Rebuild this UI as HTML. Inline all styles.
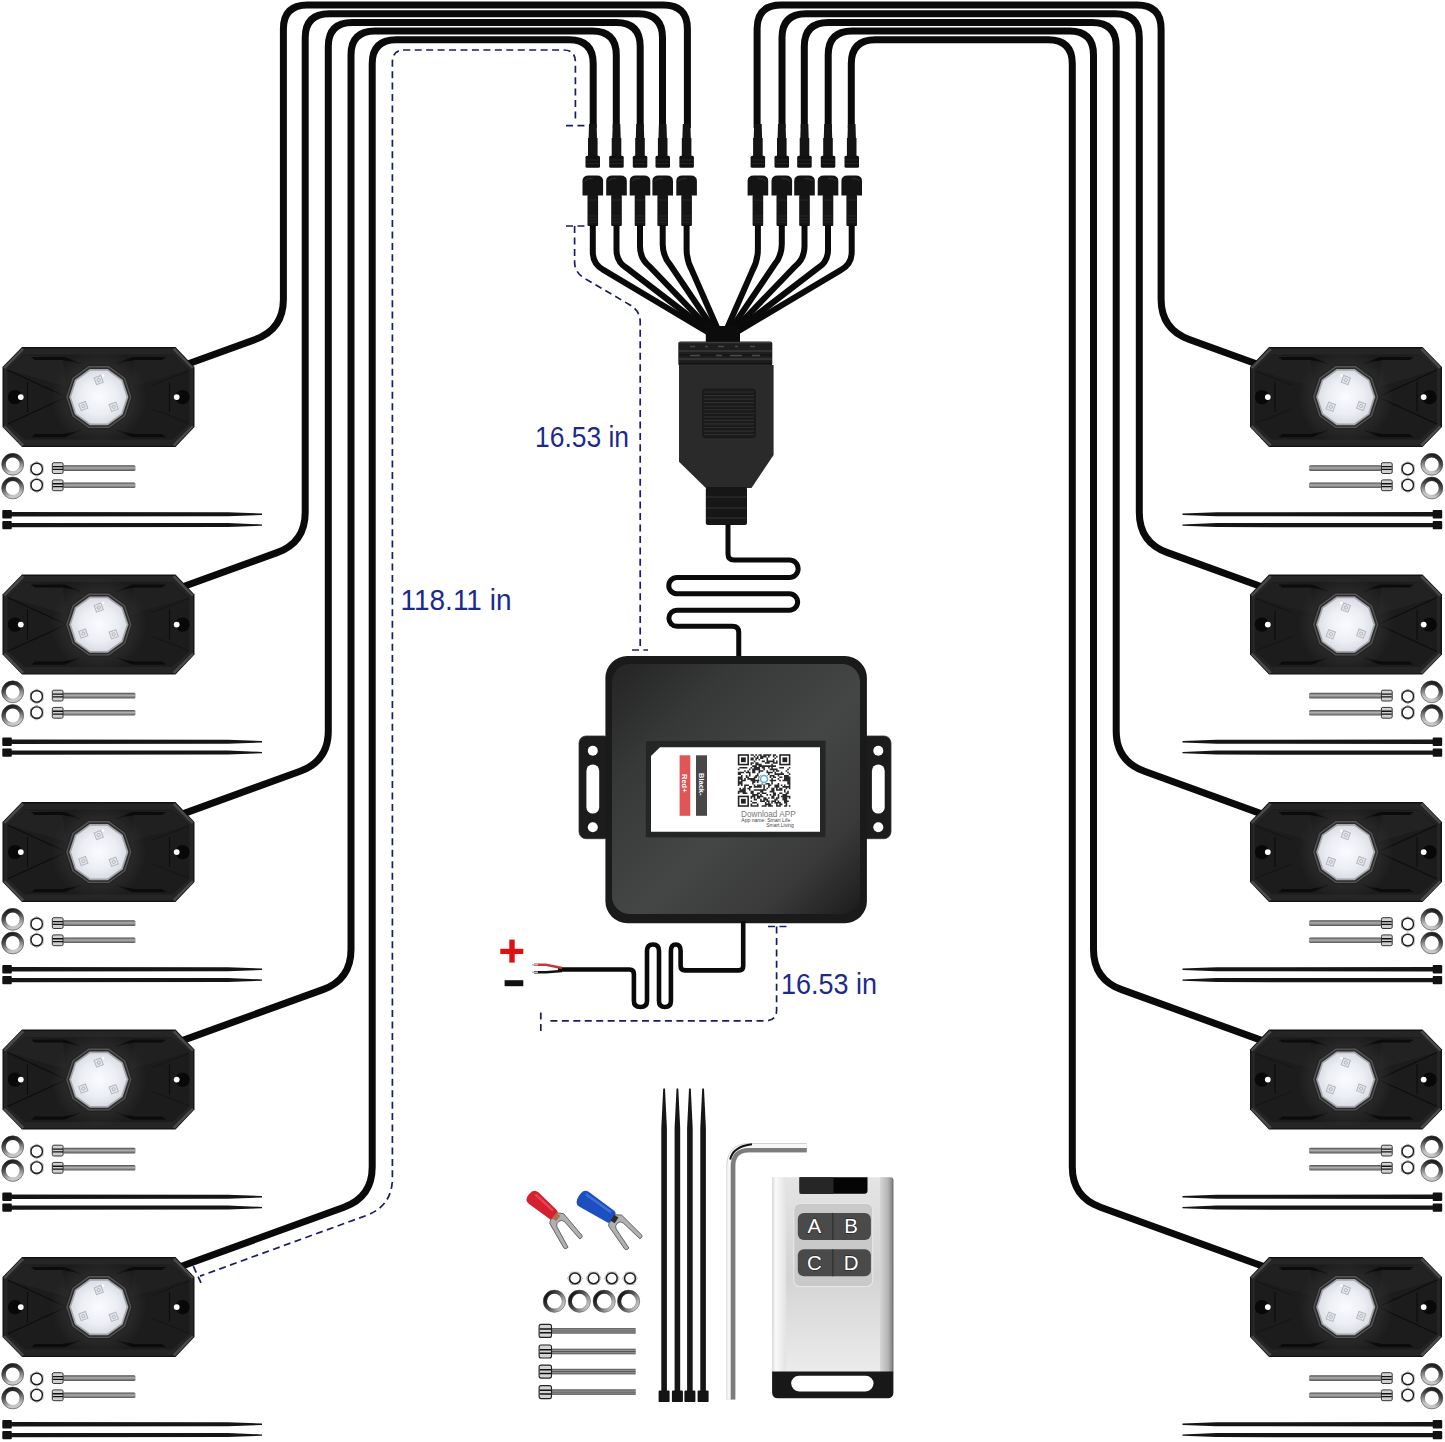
<!DOCTYPE html>
<html><head><meta charset="utf-8"><style>
html,body{margin:0;padding:0;background:#fff;}
body{width:1445px;height:1442px;overflow:hidden;font-family:"Liberation Sans",sans-serif;}
svg{display:block;}
</style></head><body>
<svg width="1445" height="1442" viewBox="0 0 1445 1442">
<defs><radialGradient id="lensG" cx="50%" cy="50%" r="55%">
<stop offset="0" stop-color="#fbfbff"/><stop offset="0.6" stop-color="#eceef4"/><stop offset="0.9" stop-color="#dcdee6"/><stop offset="1" stop-color="#cfd1d8"/></radialGradient><radialGradient id="podGlow" cx="50%" cy="50%" r="50%"><stop offset="0.6" stop-color="#2e2e2e" stop-opacity="0.9"/><stop offset="1" stop-color="#2e2e2e" stop-opacity="0"/></radialGradient>
<linearGradient id="washG" x1="0" y1="0" x2="0.3" y2="1">
<stop offset="0" stop-color="#111"/><stop offset="0.45" stop-color="#4a4a4a"/><stop offset="1" stop-color="#c8c8c8"/></linearGradient><linearGradient id="washH" x1="0" y1="0.2" x2="1" y2="0.8"><stop offset="0" stop-color="#0e0e0e"/><stop offset="0.5" stop-color="#555"/><stop offset="1" stop-color="#d0d0d0"/></linearGradient>
<linearGradient id="shaftG" x1="0" y1="0" x2="0" y2="1">
<stop offset="0" stop-color="#4a4a4a"/><stop offset="0.45" stop-color="#b0b0b0"/><stop offset="1" stop-color="#555"/></linearGradient><linearGradient id="shaftV" x1="0" y1="0" x2="1" y2="0">
<stop offset="0" stop-color="#6a6a6a"/><stop offset="0.45" stop-color="#d8d8d8"/><stop offset="1" stop-color="#6a6a6a"/></linearGradient><linearGradient id="boxG" x1="0" y1="0" x2="1" y2="1">
<stop offset="0" stop-color="#242424"/><stop offset="0.25" stop-color="#373838"/><stop offset="0.55" stop-color="#444545"/><stop offset="0.8" stop-color="#3a3a3a"/><stop offset="1" stop-color="#1c1c1c"/></linearGradient><linearGradient id="remG" x1="0" y1="0" x2="0" y2="1">
<stop offset="0" stop-color="#e4e4e4"/><stop offset="0.5" stop-color="#d4d4d4"/><stop offset="1" stop-color="#ececec"/></linearGradient>
<linearGradient id="remL" x1="0" y1="0" x2="1" y2="0"><stop offset="0" stop-color="#d8d8d8"/><stop offset="0.25" stop-color="#fafafa"/><stop offset="1" stop-color="#e2e2e2"/></linearGradient>
<linearGradient id="remR" x1="0" y1="0" x2="1" y2="0">
<stop offset="0" stop-color="#d6d6d6"/><stop offset="0.6" stop-color="#b4b4b4"/><stop offset="0.88" stop-color="#8a8a8a"/><stop offset="1" stop-color="#606060"/></linearGradient><g id="pod"><polygon points="19.5,0 173,0 192,20 192,80 173,100 19.5,100 0,80 0,20" fill="#121212"/><polygon points="20.5,1.3 172,1.3 190.7,20.6 190.7,79.4 172,98.7 20.5,98.7 1.3,79.4 1.3,20.6" fill="#252525"/><polygon points="22,7.5 170,7.5 187,23 187,77 170,92.5 22,92.5 5,77 5,23" fill="#1c1c1c"/><polygon points="6,23 22,8 60,11 64,40" fill="#222"/><polygon points="186,23 170,8 132,11 128,40" fill="#202020"/><polygon points="0.6,20.3 19.8,0.6 21.6,2.6 2.6,21.6" fill="#4a4a4a"/><polygon points="0.6,79.7 19.8,99.4 21.6,97.4 2.6,78.4" fill="#4a4a4a"/><polygon points="191.4,20.3 172.2,0.6 170.4,2.6 189.4,21.6" fill="#4a4a4a"/><polygon points="191.4,79.7 172.2,99.4 170.4,97.4 189.4,78.4" fill="#4a4a4a"/><g stroke="#0d0d0d" stroke-width="1.1" fill="none"><path d="M5,23 L64,50 L5,77"/><path d="M186,24 L150,38 M186,76 L150,62" stroke="#161616"/><path d="M25,35 V65"/><path d="M167,35 V65"/><path d="M29,10.5 H62 L78,17"/><path d="M29,89.5 H62 L78,83"/><path d="M163,10.5 H130 L114,17"/><path d="M163,89.5 H130 L114,83"/></g><path d="M30,10.6 H62 L74,15.5 L60,13 H32 Z" fill="#0b0b0b"/><path d="M30,89.4 H62 L74,84.5 L60,87 H32 Z" fill="#0b0b0b"/><path d="M162,10.6 H130 L118,15.5 L132,13 H160 Z" fill="#0b0b0b"/><path d="M162,89.4 H130 L118,84.5 L132,87 H160 Z" fill="#0b0b0b"/><circle cx="12.5" cy="50" r="7.2" fill="#080808"/><circle cx="18.3" cy="50" r="2.9" fill="#fff"/><circle cx="180" cy="50" r="7.2" fill="#080808"/><circle cx="174.2" cy="50" r="2.9" fill="#fff"/><circle cx="96.3" cy="50" r="48" fill="url(#podGlow)"/><polygon points="130.3,50.0 123.8,70.0 106.8,82.3 85.8,82.3 68.8,70.0 62.3,50.0 68.8,30.0 85.8,17.7 106.8,17.7 123.8,30.0" fill="#232323"/><polygon points="128.9,50.0 122.7,69.2 106.4,81.0 86.2,81.0 69.9,69.2 63.7,50.0 69.9,30.8 86.2,19.0 106.4,19.0 122.7,30.8" fill="#555"/><polygon points="127.5,50.0 121.5,68.3 105.9,79.7 86.7,79.7 71.1,68.3 65.1,50.0 71.1,31.7 86.7,20.3 105.9,20.3 121.5,31.7" fill="#2c2c2c"/><polygon points="125.9,50.0 120.2,67.4 105.4,78.2 87.2,78.2 72.4,67.4 66.7,50.0 72.4,32.6 87.2,21.8 105.4,21.8 120.2,32.6" fill="#a4a6aa"/><polygon points="124.1,50.0 118.8,66.3 104.9,76.4 87.7,76.4 73.8,66.3 68.5,50.0 73.8,33.7 87.7,23.6 104.9,23.6 118.8,33.7" fill="url(#lensG)"/><g transform="translate(96.2,33.0) rotate(-20)"><rect x="-3.6" y="-3.6" width="7.2" height="7.2" fill="#e4e6ea" stroke="#b4b8c0" stroke-width="1"/><circle cx="0" cy="0" r="1.6" fill="none" stroke="#a8acb4" stroke-width="0.8"/></g><g transform="translate(80.8,59.0) rotate(-20)"><rect x="-3.6" y="-3.6" width="7.2" height="7.2" fill="#e4e6ea" stroke="#b4b8c0" stroke-width="1"/><circle cx="0" cy="0" r="1.6" fill="none" stroke="#a8acb4" stroke-width="0.8"/></g><g transform="translate(111.2,59.7) rotate(-20)"><rect x="-3.6" y="-3.6" width="7.2" height="7.2" fill="#e4e6ea" stroke="#b4b8c0" stroke-width="1"/><circle cx="0" cy="0" r="1.6" fill="none" stroke="#a8acb4" stroke-width="0.8"/></g><circle cx="100.5" cy="28.5" r="1.3" fill="#fff"/></g><g id="hw"><circle cx="12.7" cy="117.2" r="9" fill="none" stroke="url(#washG)" stroke-width="4.2"/><circle cx="12.7" cy="117.2" r="10.9" fill="none" stroke="#444" stroke-width="0.6"/><circle cx="12.7" cy="140.9" r="9" fill="none" stroke="url(#washG)" stroke-width="4.2"/><circle cx="12.7" cy="140.9" r="10.9" fill="none" stroke="#444" stroke-width="0.6"/><polygon points="36.7,129.1 30.4,125.5 30.4,118.1 36.7,114.5 43.0,118.1 43.0,125.5" fill="#e4e4e4" stroke="#888" stroke-width="0.7"/><circle cx="36.7" cy="121.8" r="5.7" fill="#fff" stroke="#1c1c1c" stroke-width="1.4"/><polygon points="36.7,145.3 30.4,141.7 30.4,134.3 36.7,130.7 43.0,134.3 43.0,141.7" fill="#e4e4e4" stroke="#888" stroke-width="0.7"/><circle cx="36.7" cy="138.0" r="5.7" fill="#fff" stroke="#1c1c1c" stroke-width="1.4"/><rect x="63" y="118.2" width="72.5" height="5.6" rx="1.5" fill="url(#shaftG)"/><rect x="52.3" y="115.6" width="10.8" height="10.8" rx="1.5" fill="#d0d0d0" stroke="#333" stroke-width="1"/><path d="M52.8,119.5 H63 M52.8,122.3 H63" stroke="#111" stroke-width="1.4"/><rect x="63" y="135.4" width="72.5" height="5.6" rx="1.5" fill="url(#shaftG)"/><rect x="52.3" y="132.8" width="10.8" height="10.8" rx="1.5" fill="#d0d0d0" stroke="#333" stroke-width="1"/><path d="M52.8,136.7 H63 M52.8,139.5 H63" stroke="#111" stroke-width="1.4"/><rect x="2.3" y="163.0" width="9.5" height="8.4" rx="1" fill="#111"/><path d="M11,165.0 L228,165.2 L262,166.5 L262,167.9 L228,169.2 L11,169.4 Z" fill="#151515"/><rect x="2.3" y="173.8" width="9.5" height="8.4" rx="1" fill="#111"/><path d="M11,175.8 L228,176.0 L262,177.3 L262,178.7 L228,180.0 L11,180.2 Z" fill="#151515"/></g></defs>
<rect width="1445" height="1442" fill="#fff"/>
<g id="L"><path d="M687.4,128 V29.1 Q687.4,5.1 663.4,5.1 H307.4 Q283.4,5.1 283.4,29.1 V299.3 Q283.4,329.3 255.2,339.5 L176.0,368.3" stroke="#0a0a0a" stroke-width="7" fill="none"/><path d="M662.5,128 V37.8 Q662.5,13.8 638.5,13.8 H329.2 Q305.2,13.8 305.2,37.8 V512.4 Q305.2,542.4 277.0,552.6 L176.0,589.3" stroke="#0a0a0a" stroke-width="7" fill="none"/><path d="M640.2,128 V46.6 Q640.2,22.6 616.2,22.6 H352.3 Q328.3,22.6 328.3,46.6 V731.1 Q328.3,761.1 300.1,771.3 L176.0,816.4" stroke="#0a0a0a" stroke-width="7" fill="none"/><path d="M616.3,128 V55.0 Q616.3,31.0 592.3,31.0 H375.0 Q351.0,31.0 351.0,55.0 V949.4 Q351.0,979.4 322.8,989.6 L176.0,1042.9" stroke="#0a0a0a" stroke-width="7" fill="none"/><path d="M593.2,128 V63.8 Q593.2,39.8 569.2,39.8 H396.2 Q372.2,39.8 372.2,63.8 V1167.0 Q372.2,1197.0 344.0,1207.2 L176.0,1268.2" stroke="#0a0a0a" stroke-width="7" fill="none"/><use href="#pod" transform="translate(2.5,347.1)"/><use href="#hw" transform="translate(0,347.1)"/><use href="#pod" transform="translate(2.5,574.6)"/><use href="#hw" transform="translate(0,574.6)"/><use href="#pod" transform="translate(2.5,802.1)"/><use href="#hw" transform="translate(0,802.1)"/><use href="#pod" transform="translate(2.5,1029.6)"/><use href="#hw" transform="translate(0,1029.6)"/><use href="#pod" transform="translate(2.5,1257.1)"/><use href="#hw" transform="translate(0,1257.1)"/><path d="M589.0,124 L596.6,124 L597.0,138 L597.6,138 L597.6,156 L588.0,156 L588.0,138 L588.6,138 Z" fill="#141414"/><rect x="585.5" y="155.8" width="14.5" height="12" rx="1.5" fill="#111"/><path d="M586.3,160 H599.3 M586.3,163.5 H599.3" stroke="#2a2a2a" stroke-width="0.8"/><path d="M582.5,195.5 V181 Q582.5,175.5 588.8,175.5 H596.8 Q603.1,175.5 603.1,181 V195.5 Z" fill="#141414"/><path d="M584.8,181 Q586.8,178 592.8,178.5" stroke="#333" stroke-width="1" fill="none"/><rect x="587.5" y="195" width="10.6" height="31" rx="1" fill="#151515"/><path d="M587.8,200 H597.8 M587.8,216 H597.8 M587.8,219 H597.8 M587.8,222 H597.8" stroke="#2c2c2c" stroke-width="0.8"/><path d="M612.7,124 L620.3,124 L620.7,138 L621.3,138 L621.3,156 L611.7,156 L611.7,138 L612.3,138 Z" fill="#141414"/><rect x="609.2" y="155.8" width="14.5" height="12" rx="1.5" fill="#111"/><path d="M610.0,160 H623.0 M610.0,163.5 H623.0" stroke="#2a2a2a" stroke-width="0.8"/><path d="M606.2,195.5 V181 Q606.2,175.5 612.5,175.5 H620.5 Q626.8,175.5 626.8,181 V195.5 Z" fill="#141414"/><path d="M608.5,181 Q610.5,178 616.5,178.5" stroke="#333" stroke-width="1" fill="none"/><rect x="611.2" y="195" width="10.6" height="31" rx="1" fill="#151515"/><path d="M611.5,200 H621.5 M611.5,216 H621.5 M611.5,219 H621.5 M611.5,222 H621.5" stroke="#2c2c2c" stroke-width="0.8"/><path d="M636.2,124 L643.8,124 L644.2,138 L644.8,138 L644.8,156 L635.2,156 L635.2,138 L635.8,138 Z" fill="#141414"/><rect x="632.8" y="155.8" width="14.5" height="12" rx="1.5" fill="#111"/><path d="M633.5,160 H646.5 M633.5,163.5 H646.5" stroke="#2a2a2a" stroke-width="0.8"/><path d="M629.7,195.5 V181 Q629.7,175.5 636.0,175.5 H644.0 Q650.3,175.5 650.3,181 V195.5 Z" fill="#141414"/><path d="M632.0,181 Q634.0,178 640.0,178.5" stroke="#333" stroke-width="1" fill="none"/><rect x="634.7" y="195" width="10.6" height="31" rx="1" fill="#151515"/><path d="M635.0,200 H645.0 M635.0,216 H645.0 M635.0,219 H645.0 M635.0,222 H645.0" stroke="#2c2c2c" stroke-width="0.8"/><path d="M658.9,124 L666.5,124 L666.9,138 L667.5,138 L667.5,156 L657.9,156 L657.9,138 L658.5,138 Z" fill="#141414"/><rect x="655.5" y="155.8" width="14.5" height="12" rx="1.5" fill="#111"/><path d="M656.2,160 H669.2 M656.2,163.5 H669.2" stroke="#2a2a2a" stroke-width="0.8"/><path d="M652.4,195.5 V181 Q652.4,175.5 658.7,175.5 H666.7 Q673.0,175.5 673.0,181 V195.5 Z" fill="#141414"/><path d="M654.7,181 Q656.7,178 662.7,178.5" stroke="#333" stroke-width="1" fill="none"/><rect x="657.4" y="195" width="10.6" height="31" rx="1" fill="#151515"/><path d="M657.7,200 H667.7 M657.7,216 H667.7 M657.7,219 H667.7 M657.7,222 H667.7" stroke="#2c2c2c" stroke-width="0.8"/><path d="M682.8,124 L690.4,124 L690.8,138 L691.4,138 L691.4,156 L681.8,156 L681.8,138 L682.4,138 Z" fill="#141414"/><rect x="679.4" y="155.8" width="14.5" height="12" rx="1.5" fill="#111"/><path d="M680.1,160 H693.1 M680.1,163.5 H693.1" stroke="#2a2a2a" stroke-width="0.8"/><path d="M676.3,195.5 V181 Q676.3,175.5 682.6,175.5 H690.6 Q696.9,175.5 696.9,181 V195.5 Z" fill="#141414"/><path d="M678.6,181 Q680.6,178 686.6,178.5" stroke="#333" stroke-width="1" fill="none"/><rect x="681.3" y="195" width="10.6" height="31" rx="1" fill="#151515"/><path d="M681.6,200 H691.6 M681.6,216 H691.6 M681.6,219 H691.6 M681.6,222 H691.6" stroke="#2c2c2c" stroke-width="0.8"/><path d="M592.8,225 V252.1 Q592.8,264.1 603.4,269.8 L707.5,332.0" stroke="#0a0a0a" stroke-width="6" fill="none"/><path d="M616.5,225 V249.9 Q616.5,261.9 626.7,268.1 L710.0,332.0" stroke="#0a0a0a" stroke-width="6" fill="none"/><path d="M640.0,225 V246.6 Q640.0,258.6 649.3,266.2 L712.5,332.0" stroke="#0a0a0a" stroke-width="6" fill="none"/><path d="M662.7,225 V244.2 Q662.7,256.2 670.5,265.3 L715.5,332.0" stroke="#0a0a0a" stroke-width="6" fill="none"/><path d="M686.6,225 V249.0 Q686.6,261.0 692.5,271.5 L719.0,332.0" stroke="#0a0a0a" stroke-width="6" fill="none"/></g>
<g transform="translate(1444.5,0) scale(-1,1)"><path d="M687.4,128 V29.1 Q687.4,5.1 663.4,5.1 H307.4 Q283.4,5.1 283.4,29.1 V299.3 Q283.4,329.3 255.2,339.5 L176.0,368.3" stroke="#0a0a0a" stroke-width="7" fill="none"/><path d="M662.5,128 V37.8 Q662.5,13.8 638.5,13.8 H329.2 Q305.2,13.8 305.2,37.8 V512.4 Q305.2,542.4 277.0,552.6 L176.0,589.3" stroke="#0a0a0a" stroke-width="7" fill="none"/><path d="M640.2,128 V46.6 Q640.2,22.6 616.2,22.6 H352.3 Q328.3,22.6 328.3,46.6 V731.1 Q328.3,761.1 300.1,771.3 L176.0,816.4" stroke="#0a0a0a" stroke-width="7" fill="none"/><path d="M616.3,128 V55.0 Q616.3,31.0 592.3,31.0 H375.0 Q351.0,31.0 351.0,55.0 V949.4 Q351.0,979.4 322.8,989.6 L176.0,1042.9" stroke="#0a0a0a" stroke-width="7" fill="none"/><path d="M593.2,128 V63.8 Q593.2,39.8 569.2,39.8 H396.2 Q372.2,39.8 372.2,63.8 V1167.0 Q372.2,1197.0 344.0,1207.2 L176.0,1268.2" stroke="#0a0a0a" stroke-width="7" fill="none"/><use href="#pod" transform="translate(2.5,347.1)"/><use href="#hw" transform="translate(0,347.1)"/><use href="#pod" transform="translate(2.5,574.6)"/><use href="#hw" transform="translate(0,574.6)"/><use href="#pod" transform="translate(2.5,802.1)"/><use href="#hw" transform="translate(0,802.1)"/><use href="#pod" transform="translate(2.5,1029.6)"/><use href="#hw" transform="translate(0,1029.6)"/><use href="#pod" transform="translate(2.5,1257.1)"/><use href="#hw" transform="translate(0,1257.1)"/><path d="M589.0,124 L596.6,124 L597.0,138 L597.6,138 L597.6,156 L588.0,156 L588.0,138 L588.6,138 Z" fill="#141414"/><rect x="585.5" y="155.8" width="14.5" height="12" rx="1.5" fill="#111"/><path d="M586.3,160 H599.3 M586.3,163.5 H599.3" stroke="#2a2a2a" stroke-width="0.8"/><path d="M582.5,195.5 V181 Q582.5,175.5 588.8,175.5 H596.8 Q603.1,175.5 603.1,181 V195.5 Z" fill="#141414"/><path d="M584.8,181 Q586.8,178 592.8,178.5" stroke="#333" stroke-width="1" fill="none"/><rect x="587.5" y="195" width="10.6" height="31" rx="1" fill="#151515"/><path d="M587.8,200 H597.8 M587.8,216 H597.8 M587.8,219 H597.8 M587.8,222 H597.8" stroke="#2c2c2c" stroke-width="0.8"/><path d="M612.7,124 L620.3,124 L620.7,138 L621.3,138 L621.3,156 L611.7,156 L611.7,138 L612.3,138 Z" fill="#141414"/><rect x="609.2" y="155.8" width="14.5" height="12" rx="1.5" fill="#111"/><path d="M610.0,160 H623.0 M610.0,163.5 H623.0" stroke="#2a2a2a" stroke-width="0.8"/><path d="M606.2,195.5 V181 Q606.2,175.5 612.5,175.5 H620.5 Q626.8,175.5 626.8,181 V195.5 Z" fill="#141414"/><path d="M608.5,181 Q610.5,178 616.5,178.5" stroke="#333" stroke-width="1" fill="none"/><rect x="611.2" y="195" width="10.6" height="31" rx="1" fill="#151515"/><path d="M611.5,200 H621.5 M611.5,216 H621.5 M611.5,219 H621.5 M611.5,222 H621.5" stroke="#2c2c2c" stroke-width="0.8"/><path d="M636.2,124 L643.8,124 L644.2,138 L644.8,138 L644.8,156 L635.2,156 L635.2,138 L635.8,138 Z" fill="#141414"/><rect x="632.8" y="155.8" width="14.5" height="12" rx="1.5" fill="#111"/><path d="M633.5,160 H646.5 M633.5,163.5 H646.5" stroke="#2a2a2a" stroke-width="0.8"/><path d="M629.7,195.5 V181 Q629.7,175.5 636.0,175.5 H644.0 Q650.3,175.5 650.3,181 V195.5 Z" fill="#141414"/><path d="M632.0,181 Q634.0,178 640.0,178.5" stroke="#333" stroke-width="1" fill="none"/><rect x="634.7" y="195" width="10.6" height="31" rx="1" fill="#151515"/><path d="M635.0,200 H645.0 M635.0,216 H645.0 M635.0,219 H645.0 M635.0,222 H645.0" stroke="#2c2c2c" stroke-width="0.8"/><path d="M658.9,124 L666.5,124 L666.9,138 L667.5,138 L667.5,156 L657.9,156 L657.9,138 L658.5,138 Z" fill="#141414"/><rect x="655.5" y="155.8" width="14.5" height="12" rx="1.5" fill="#111"/><path d="M656.2,160 H669.2 M656.2,163.5 H669.2" stroke="#2a2a2a" stroke-width="0.8"/><path d="M652.4,195.5 V181 Q652.4,175.5 658.7,175.5 H666.7 Q673.0,175.5 673.0,181 V195.5 Z" fill="#141414"/><path d="M654.7,181 Q656.7,178 662.7,178.5" stroke="#333" stroke-width="1" fill="none"/><rect x="657.4" y="195" width="10.6" height="31" rx="1" fill="#151515"/><path d="M657.7,200 H667.7 M657.7,216 H667.7 M657.7,219 H667.7 M657.7,222 H667.7" stroke="#2c2c2c" stroke-width="0.8"/><path d="M682.8,124 L690.4,124 L690.8,138 L691.4,138 L691.4,156 L681.8,156 L681.8,138 L682.4,138 Z" fill="#141414"/><rect x="679.4" y="155.8" width="14.5" height="12" rx="1.5" fill="#111"/><path d="M680.1,160 H693.1 M680.1,163.5 H693.1" stroke="#2a2a2a" stroke-width="0.8"/><path d="M676.3,195.5 V181 Q676.3,175.5 682.6,175.5 H690.6 Q696.9,175.5 696.9,181 V195.5 Z" fill="#141414"/><path d="M678.6,181 Q680.6,178 686.6,178.5" stroke="#333" stroke-width="1" fill="none"/><rect x="681.3" y="195" width="10.6" height="31" rx="1" fill="#151515"/><path d="M681.6,200 H691.6 M681.6,216 H691.6 M681.6,219 H691.6 M681.6,222 H691.6" stroke="#2c2c2c" stroke-width="0.8"/><path d="M592.8,225 V252.1 Q592.8,264.1 603.4,269.8 L707.5,332.0" stroke="#0a0a0a" stroke-width="6" fill="none"/><path d="M616.5,225 V249.9 Q616.5,261.9 626.7,268.1 L710.0,332.0" stroke="#0a0a0a" stroke-width="6" fill="none"/><path d="M640.0,225 V246.6 Q640.0,258.6 649.3,266.2 L712.5,332.0" stroke="#0a0a0a" stroke-width="6" fill="none"/><path d="M662.7,225 V244.2 Q662.7,256.2 670.5,265.3 L715.5,332.0" stroke="#0a0a0a" stroke-width="6" fill="none"/><path d="M686.6,225 V249.0 Q686.6,261.0 692.5,271.5 L719.0,332.0" stroke="#0a0a0a" stroke-width="6" fill="none"/></g>
<path d="M575.4,118.5 V62 Q575.4,50 563.4,50 H404.4 Q392.4,50 392.4,62 V1178 Q392.4,1206 366,1215.6 L200,1276.1" stroke="#191d68" stroke-width="1.7" fill="none" stroke-dasharray="7 4.45"/><path d="M566,125.6 H585" stroke="#191d68" stroke-width="1.7" fill="none" stroke-dasharray="7 4.45"/><path d="M566,226 H585 M574.6,226 V262 Q574.6,272 584,278 L630,305 Q640.2,311 640.2,322 V650" stroke="#191d68" stroke-width="1.7" fill="none" stroke-dasharray="7 4.45"/><path d="M632,650 H648" stroke="#191d68" stroke-width="1.7" fill="none" stroke-dasharray="7 4.45"/><path d="M193.3,1266.2 L202.4,1286" stroke="#191d68" stroke-width="1.7" fill="none" stroke-dasharray="7 4.45"/><path d="M768,926.5 H786.5 M776.6,926.5 V1010 Q776.6,1020.8 765,1020.8 H546 M540.8,1012.5 V1031.2" stroke="#191d68" stroke-width="1.7" fill="none" stroke-dasharray="7 4.45"/><rect x="705.8" y="326" width="34.2" height="16" fill="#0c0c0c"/><rect x="678.3" y="341.4" width="94" height="24.4" rx="2" fill="#1e1e1e"/><path d="M679,342.6 H771.5" stroke="#3c3c3c" stroke-width="1.4"/><path d="M679,351 H772 M679,359 H772" stroke="#3a3a3a" stroke-width="1.6"/><path d="M679,355 H772 M679,363.5 H772" stroke="#111" stroke-width="1.2"/><path d="M690,346.5 h5 M705,346.5 h3 M718,346.5 h6 M735,346.5 h3 M750,346.5 h5 M690,355.5 h10 M716,355.5 h6 M730,355.5 h12 M752,355.5 h8" stroke="#4a4a4a" stroke-width="1.3"/><path d="M679,365 H773.6 V455 L751.5,488 H705.8 L679,461.8 Z" fill="#2a2a2a"/><rect x="702" y="388.6" width="54" height="49.6" rx="4" fill="#1a1a1a"/><path d="M704,392.0 H754 M704,395.6 H754 M704,399.1 H754 M704,402.6 H754 M704,406.2 H754 M704,409.8 H754 M704,413.3 H754 M704,416.9 H754 M704,420.4 H754 M704,423.9 H754 M704,427.5 H754 M704,431.1 H754 M704,434.6 H754 " stroke="#2e2e2e" stroke-width="1.1"/><rect x="705.8" y="487" width="41.2" height="38" rx="2" fill="#161616"/><path d="M706,497 H747 M706,508 H747 M706,518 H747" stroke="#2a2a2a" stroke-width="1.5"/><path d="M728,524 V554 Q728,560 734,560 H789.4 A8.125,8.125 0 0 1 789.4,577.5 H676.9 A8.125,8.125 0 0 0 676.9,593.75 H789.4 A8.25,8.25 0 0 1 789.4,610.25 H676.9 A8,8 0 0 0 676.9,626.25 H732.5 Q738.75,626.25 738.75,632.5 V660" stroke="#0a0a0a" stroke-width="5" fill="none"/><rect x="579" y="736" width="32" height="102.7" rx="7" fill="#1c1c1c" stroke="#333" stroke-width="0.8"/><rect x="860" y="736" width="31" height="102.7" rx="7" fill="#1c1c1c" stroke="#333" stroke-width="0.8"/><circle cx="592.8" cy="750.8" r="5" fill="#fff"/><circle cx="592.8" cy="827.3" r="5" fill="#fff"/><rect x="586.4" y="764.5" width="12.8" height="49.1" rx="6.4" fill="#fff"/><circle cx="878.3" cy="750.8" r="5" fill="#fff"/><circle cx="878.3" cy="827.3" r="5" fill="#fff"/><rect x="871.9" y="764.5" width="12.8" height="49.1" rx="6.4" fill="#fff"/><rect x="605.4" y="656" width="261.5" height="267.2" rx="22" fill="#1a1a1a"/><rect x="612" y="664" width="248" height="250" rx="18" fill="url(#boxG)"/><rect x="645.4" y="740.5" width="180.4" height="97" fill="#242525" stroke="#3a3b3b" stroke-width="0.8"/><path d="M660,747.3 H820 V831.8 H651 V756 Z" fill="#fff"/><rect x="679.6" y="755.3" width="10.7" height="60.5" fill="#e05555"/><rect x="696" y="755.3" width="11" height="60.5" fill="#4a4648"/><text x="0" y="0" transform="translate(682.3,774) rotate(90)" font-family="Liberation Sans" font-weight="bold" font-size="7.5" fill="#fff">Red+</text><text x="0" y="0" transform="translate(698.8,773) rotate(90)" font-family="Liberation Sans" font-weight="bold" font-size="7.5" fill="#fff">Black-</text><path d="M750.55,754.20h1.59v1.59h-1.59zM752.15,754.20h1.59v1.59h-1.59zM755.33,754.20h1.59v1.59h-1.59zM758.52,754.20h1.59v1.59h-1.59zM760.12,754.20h1.59v1.59h-1.59zM763.30,754.20h1.59v1.59h-1.59zM764.90,754.20h1.59v1.59h-1.59zM766.49,754.20h1.59v1.59h-1.59zM768.08,754.20h1.59v1.59h-1.59zM769.68,754.20h1.59v1.59h-1.59zM772.87,754.20h1.59v1.59h-1.59zM774.46,754.20h1.59v1.59h-1.59zM753.74,755.79h1.59v1.59h-1.59zM756.93,755.79h1.59v1.59h-1.59zM760.12,755.79h1.59v1.59h-1.59zM761.71,755.79h1.59v1.59h-1.59zM763.30,755.79h1.59v1.59h-1.59zM764.90,755.79h1.59v1.59h-1.59zM768.08,755.79h1.59v1.59h-1.59zM772.87,755.79h1.59v1.59h-1.59zM776.05,755.79h1.59v1.59h-1.59zM750.55,757.39h1.59v1.59h-1.59zM752.15,757.39h1.59v1.59h-1.59zM755.33,757.39h1.59v1.59h-1.59zM756.93,757.39h1.59v1.59h-1.59zM760.12,757.39h1.59v1.59h-1.59zM761.71,757.39h1.59v1.59h-1.59zM766.49,757.39h1.59v1.59h-1.59zM774.46,757.39h1.59v1.59h-1.59zM750.55,758.98h1.59v1.59h-1.59zM752.15,758.98h1.59v1.59h-1.59zM755.33,758.98h1.59v1.59h-1.59zM758.52,758.98h1.59v1.59h-1.59zM766.49,758.98h1.59v1.59h-1.59zM772.87,758.98h1.59v1.59h-1.59zM753.74,760.58h1.59v1.59h-1.59zM761.71,760.58h1.59v1.59h-1.59zM763.30,760.58h1.59v1.59h-1.59zM766.49,760.58h1.59v1.59h-1.59zM768.08,760.58h1.59v1.59h-1.59zM769.68,760.58h1.59v1.59h-1.59zM771.27,760.58h1.59v1.59h-1.59zM772.87,760.58h1.59v1.59h-1.59zM776.05,760.58h1.59v1.59h-1.59zM750.55,762.17h1.59v1.59h-1.59zM752.15,762.17h1.59v1.59h-1.59zM755.33,762.17h1.59v1.59h-1.59zM756.93,762.17h1.59v1.59h-1.59zM764.90,762.17h1.59v1.59h-1.59zM766.49,762.17h1.59v1.59h-1.59zM768.08,762.17h1.59v1.59h-1.59zM772.87,762.17h1.59v1.59h-1.59zM774.46,762.17h1.59v1.59h-1.59zM776.05,762.17h1.59v1.59h-1.59zM750.55,763.76h1.59v1.59h-1.59zM755.33,763.76h1.59v1.59h-1.59zM756.93,763.76h1.59v1.59h-1.59zM758.52,763.76h1.59v1.59h-1.59zM760.12,763.76h1.59v1.59h-1.59zM771.27,763.76h1.59v1.59h-1.59zM752.15,765.36h1.59v1.59h-1.59zM753.74,765.36h1.59v1.59h-1.59zM755.33,765.36h1.59v1.59h-1.59zM758.52,765.36h1.59v1.59h-1.59zM760.12,765.36h1.59v1.59h-1.59zM761.71,765.36h1.59v1.59h-1.59zM763.30,765.36h1.59v1.59h-1.59zM764.90,765.36h1.59v1.59h-1.59zM766.49,765.36h1.59v1.59h-1.59zM768.08,765.36h1.59v1.59h-1.59zM769.68,765.36h1.59v1.59h-1.59zM771.27,765.36h1.59v1.59h-1.59zM772.87,765.36h1.59v1.59h-1.59zM774.46,765.36h1.59v1.59h-1.59zM739.39,766.95h1.59v1.59h-1.59zM740.99,766.95h1.59v1.59h-1.59zM742.58,766.95h1.59v1.59h-1.59zM744.18,766.95h1.59v1.59h-1.59zM745.77,766.95h1.59v1.59h-1.59zM750.55,766.95h1.59v1.59h-1.59zM753.74,766.95h1.59v1.59h-1.59zM755.33,766.95h1.59v1.59h-1.59zM756.93,766.95h1.59v1.59h-1.59zM758.52,766.95h1.59v1.59h-1.59zM761.71,766.95h1.59v1.59h-1.59zM763.30,766.95h1.59v1.59h-1.59zM768.08,766.95h1.59v1.59h-1.59zM771.27,766.95h1.59v1.59h-1.59zM779.24,766.95h1.59v1.59h-1.59zM780.84,766.95h1.59v1.59h-1.59zM782.43,766.95h1.59v1.59h-1.59zM788.81,766.95h1.59v1.59h-1.59zM737.80,768.55h1.59v1.59h-1.59zM748.96,768.55h1.59v1.59h-1.59zM752.15,768.55h1.59v1.59h-1.59zM753.74,768.55h1.59v1.59h-1.59zM755.33,768.55h1.59v1.59h-1.59zM756.93,768.55h1.59v1.59h-1.59zM758.52,768.55h1.59v1.59h-1.59zM763.30,768.55h1.59v1.59h-1.59zM769.68,768.55h1.59v1.59h-1.59zM771.27,768.55h1.59v1.59h-1.59zM772.87,768.55h1.59v1.59h-1.59zM774.46,768.55h1.59v1.59h-1.59zM776.05,768.55h1.59v1.59h-1.59zM787.21,768.55h1.59v1.59h-1.59zM744.18,770.14h1.59v1.59h-1.59zM747.36,770.14h1.59v1.59h-1.59zM752.15,770.14h1.59v1.59h-1.59zM753.74,770.14h1.59v1.59h-1.59zM758.52,770.14h1.59v1.59h-1.59zM760.12,770.14h1.59v1.59h-1.59zM761.71,770.14h1.59v1.59h-1.59zM766.49,770.14h1.59v1.59h-1.59zM772.87,770.14h1.59v1.59h-1.59zM776.05,770.14h1.59v1.59h-1.59zM777.65,770.14h1.59v1.59h-1.59zM785.62,770.14h1.59v1.59h-1.59zM737.80,771.73h1.59v1.59h-1.59zM739.39,771.73h1.59v1.59h-1.59zM740.99,771.73h1.59v1.59h-1.59zM742.58,771.73h1.59v1.59h-1.59zM745.77,771.73h1.59v1.59h-1.59zM747.36,771.73h1.59v1.59h-1.59zM748.96,771.73h1.59v1.59h-1.59zM752.15,771.73h1.59v1.59h-1.59zM753.74,771.73h1.59v1.59h-1.59zM758.52,771.73h1.59v1.59h-1.59zM766.49,771.73h1.59v1.59h-1.59zM768.08,771.73h1.59v1.59h-1.59zM769.68,771.73h1.59v1.59h-1.59zM771.27,771.73h1.59v1.59h-1.59zM774.46,771.73h1.59v1.59h-1.59zM780.84,771.73h1.59v1.59h-1.59zM787.21,771.73h1.59v1.59h-1.59zM737.80,773.33h1.59v1.59h-1.59zM739.39,773.33h1.59v1.59h-1.59zM748.96,773.33h1.59v1.59h-1.59zM756.93,773.33h1.59v1.59h-1.59zM768.08,773.33h1.59v1.59h-1.59zM774.46,773.33h1.59v1.59h-1.59zM776.05,773.33h1.59v1.59h-1.59zM777.65,773.33h1.59v1.59h-1.59zM779.24,773.33h1.59v1.59h-1.59zM780.84,773.33h1.59v1.59h-1.59zM782.43,773.33h1.59v1.59h-1.59zM788.81,773.33h1.59v1.59h-1.59zM740.99,774.92h1.59v1.59h-1.59zM745.77,774.92h1.59v1.59h-1.59zM748.96,774.92h1.59v1.59h-1.59zM755.33,774.92h1.59v1.59h-1.59zM756.93,774.92h1.59v1.59h-1.59zM760.12,774.92h1.59v1.59h-1.59zM761.71,774.92h1.59v1.59h-1.59zM763.30,774.92h1.59v1.59h-1.59zM766.49,774.92h1.59v1.59h-1.59zM769.68,774.92h1.59v1.59h-1.59zM771.27,774.92h1.59v1.59h-1.59zM772.87,774.92h1.59v1.59h-1.59zM777.65,774.92h1.59v1.59h-1.59zM784.02,774.92h1.59v1.59h-1.59zM785.62,774.92h1.59v1.59h-1.59zM787.21,774.92h1.59v1.59h-1.59zM737.80,776.52h1.59v1.59h-1.59zM739.39,776.52h1.59v1.59h-1.59zM740.99,776.52h1.59v1.59h-1.59zM745.77,776.52h1.59v1.59h-1.59zM747.36,776.52h1.59v1.59h-1.59zM753.74,776.52h1.59v1.59h-1.59zM755.33,776.52h1.59v1.59h-1.59zM758.52,776.52h1.59v1.59h-1.59zM760.12,776.52h1.59v1.59h-1.59zM766.49,776.52h1.59v1.59h-1.59zM769.68,776.52h1.59v1.59h-1.59zM772.87,776.52h1.59v1.59h-1.59zM774.46,776.52h1.59v1.59h-1.59zM779.24,776.52h1.59v1.59h-1.59zM780.84,776.52h1.59v1.59h-1.59zM784.02,776.52h1.59v1.59h-1.59zM785.62,776.52h1.59v1.59h-1.59zM787.21,776.52h1.59v1.59h-1.59zM788.81,776.52h1.59v1.59h-1.59zM737.80,778.11h1.59v1.59h-1.59zM739.39,778.11h1.59v1.59h-1.59zM740.99,778.11h1.59v1.59h-1.59zM744.18,778.11h1.59v1.59h-1.59zM747.36,778.11h1.59v1.59h-1.59zM748.96,778.11h1.59v1.59h-1.59zM750.55,778.11h1.59v1.59h-1.59zM752.15,778.11h1.59v1.59h-1.59zM753.74,778.11h1.59v1.59h-1.59zM758.52,778.11h1.59v1.59h-1.59zM763.30,778.11h1.59v1.59h-1.59zM766.49,778.11h1.59v1.59h-1.59zM771.27,778.11h1.59v1.59h-1.59zM777.65,778.11h1.59v1.59h-1.59zM784.02,778.11h1.59v1.59h-1.59zM785.62,778.11h1.59v1.59h-1.59zM787.21,778.11h1.59v1.59h-1.59zM788.81,778.11h1.59v1.59h-1.59zM737.80,779.70h1.59v1.59h-1.59zM740.99,779.70h1.59v1.59h-1.59zM742.58,779.70h1.59v1.59h-1.59zM744.18,779.70h1.59v1.59h-1.59zM750.55,779.70h1.59v1.59h-1.59zM752.15,779.70h1.59v1.59h-1.59zM753.74,779.70h1.59v1.59h-1.59zM755.33,779.70h1.59v1.59h-1.59zM756.93,779.70h1.59v1.59h-1.59zM758.52,779.70h1.59v1.59h-1.59zM760.12,779.70h1.59v1.59h-1.59zM766.49,779.70h1.59v1.59h-1.59zM769.68,779.70h1.59v1.59h-1.59zM771.27,779.70h1.59v1.59h-1.59zM772.87,779.70h1.59v1.59h-1.59zM774.46,779.70h1.59v1.59h-1.59zM779.24,779.70h1.59v1.59h-1.59zM782.43,779.70h1.59v1.59h-1.59zM784.02,779.70h1.59v1.59h-1.59zM785.62,779.70h1.59v1.59h-1.59zM787.21,779.70h1.59v1.59h-1.59zM788.81,779.70h1.59v1.59h-1.59zM737.80,781.30h1.59v1.59h-1.59zM739.39,781.30h1.59v1.59h-1.59zM740.99,781.30h1.59v1.59h-1.59zM752.15,781.30h1.59v1.59h-1.59zM753.74,781.30h1.59v1.59h-1.59zM756.93,781.30h1.59v1.59h-1.59zM761.71,781.30h1.59v1.59h-1.59zM771.27,781.30h1.59v1.59h-1.59zM787.21,781.30h1.59v1.59h-1.59zM788.81,781.30h1.59v1.59h-1.59zM737.80,782.89h1.59v1.59h-1.59zM739.39,782.89h1.59v1.59h-1.59zM740.99,782.89h1.59v1.59h-1.59zM752.15,782.89h1.59v1.59h-1.59zM761.71,782.89h1.59v1.59h-1.59zM764.90,782.89h1.59v1.59h-1.59zM766.49,782.89h1.59v1.59h-1.59zM768.08,782.89h1.59v1.59h-1.59zM771.27,782.89h1.59v1.59h-1.59zM777.65,782.89h1.59v1.59h-1.59zM787.21,782.89h1.59v1.59h-1.59zM788.81,782.89h1.59v1.59h-1.59zM737.80,784.48h1.59v1.59h-1.59zM740.99,784.48h1.59v1.59h-1.59zM744.18,784.48h1.59v1.59h-1.59zM745.77,784.48h1.59v1.59h-1.59zM747.36,784.48h1.59v1.59h-1.59zM753.74,784.48h1.59v1.59h-1.59zM756.93,784.48h1.59v1.59h-1.59zM758.52,784.48h1.59v1.59h-1.59zM760.12,784.48h1.59v1.59h-1.59zM763.30,784.48h1.59v1.59h-1.59zM768.08,784.48h1.59v1.59h-1.59zM769.68,784.48h1.59v1.59h-1.59zM774.46,784.48h1.59v1.59h-1.59zM776.05,784.48h1.59v1.59h-1.59zM777.65,784.48h1.59v1.59h-1.59zM780.84,784.48h1.59v1.59h-1.59zM784.02,784.48h1.59v1.59h-1.59zM788.81,784.48h1.59v1.59h-1.59zM744.18,786.08h1.59v1.59h-1.59zM748.96,786.08h1.59v1.59h-1.59zM750.55,786.08h1.59v1.59h-1.59zM753.74,786.08h1.59v1.59h-1.59zM755.33,786.08h1.59v1.59h-1.59zM756.93,786.08h1.59v1.59h-1.59zM758.52,786.08h1.59v1.59h-1.59zM760.12,786.08h1.59v1.59h-1.59zM763.30,786.08h1.59v1.59h-1.59zM768.08,786.08h1.59v1.59h-1.59zM774.46,786.08h1.59v1.59h-1.59zM776.05,786.08h1.59v1.59h-1.59zM777.65,786.08h1.59v1.59h-1.59zM782.43,786.08h1.59v1.59h-1.59zM784.02,786.08h1.59v1.59h-1.59zM785.62,786.08h1.59v1.59h-1.59zM787.21,786.08h1.59v1.59h-1.59zM788.81,786.08h1.59v1.59h-1.59zM739.39,787.67h1.59v1.59h-1.59zM742.58,787.67h1.59v1.59h-1.59zM744.18,787.67h1.59v1.59h-1.59zM747.36,787.67h1.59v1.59h-1.59zM748.96,787.67h1.59v1.59h-1.59zM763.30,787.67h1.59v1.59h-1.59zM766.49,787.67h1.59v1.59h-1.59zM771.27,787.67h1.59v1.59h-1.59zM772.87,787.67h1.59v1.59h-1.59zM776.05,787.67h1.59v1.59h-1.59zM779.24,787.67h1.59v1.59h-1.59zM780.84,787.67h1.59v1.59h-1.59zM785.62,787.67h1.59v1.59h-1.59zM788.81,787.67h1.59v1.59h-1.59zM739.39,789.27h1.59v1.59h-1.59zM740.99,789.27h1.59v1.59h-1.59zM742.58,789.27h1.59v1.59h-1.59zM744.18,789.27h1.59v1.59h-1.59zM748.96,789.27h1.59v1.59h-1.59zM753.74,789.27h1.59v1.59h-1.59zM755.33,789.27h1.59v1.59h-1.59zM756.93,789.27h1.59v1.59h-1.59zM758.52,789.27h1.59v1.59h-1.59zM760.12,789.27h1.59v1.59h-1.59zM761.71,789.27h1.59v1.59h-1.59zM763.30,789.27h1.59v1.59h-1.59zM764.90,789.27h1.59v1.59h-1.59zM771.27,789.27h1.59v1.59h-1.59zM772.87,789.27h1.59v1.59h-1.59zM776.05,789.27h1.59v1.59h-1.59zM777.65,789.27h1.59v1.59h-1.59zM779.24,789.27h1.59v1.59h-1.59zM780.84,789.27h1.59v1.59h-1.59zM784.02,789.27h1.59v1.59h-1.59zM737.80,790.86h1.59v1.59h-1.59zM739.39,790.86h1.59v1.59h-1.59zM740.99,790.86h1.59v1.59h-1.59zM742.58,790.86h1.59v1.59h-1.59zM744.18,790.86h1.59v1.59h-1.59zM750.55,790.86h1.59v1.59h-1.59zM752.15,790.86h1.59v1.59h-1.59zM760.12,790.86h1.59v1.59h-1.59zM761.71,790.86h1.59v1.59h-1.59zM769.68,790.86h1.59v1.59h-1.59zM771.27,790.86h1.59v1.59h-1.59zM772.87,790.86h1.59v1.59h-1.59zM784.02,790.86h1.59v1.59h-1.59zM787.21,790.86h1.59v1.59h-1.59zM737.80,792.45h1.59v1.59h-1.59zM742.58,792.45h1.59v1.59h-1.59zM744.18,792.45h1.59v1.59h-1.59zM745.77,792.45h1.59v1.59h-1.59zM750.55,792.45h1.59v1.59h-1.59zM752.15,792.45h1.59v1.59h-1.59zM756.93,792.45h1.59v1.59h-1.59zM758.52,792.45h1.59v1.59h-1.59zM761.71,792.45h1.59v1.59h-1.59zM763.30,792.45h1.59v1.59h-1.59zM764.90,792.45h1.59v1.59h-1.59zM772.87,792.45h1.59v1.59h-1.59zM774.46,792.45h1.59v1.59h-1.59zM779.24,792.45h1.59v1.59h-1.59zM780.84,792.45h1.59v1.59h-1.59zM785.62,792.45h1.59v1.59h-1.59zM787.21,792.45h1.59v1.59h-1.59zM752.15,794.05h1.59v1.59h-1.59zM753.74,794.05h1.59v1.59h-1.59zM755.33,794.05h1.59v1.59h-1.59zM756.93,794.05h1.59v1.59h-1.59zM760.12,794.05h1.59v1.59h-1.59zM766.49,794.05h1.59v1.59h-1.59zM769.68,794.05h1.59v1.59h-1.59zM772.87,794.05h1.59v1.59h-1.59zM774.46,794.05h1.59v1.59h-1.59zM777.65,794.05h1.59v1.59h-1.59zM782.43,794.05h1.59v1.59h-1.59zM784.02,794.05h1.59v1.59h-1.59zM785.62,794.05h1.59v1.59h-1.59zM750.55,795.64h1.59v1.59h-1.59zM752.15,795.64h1.59v1.59h-1.59zM753.74,795.64h1.59v1.59h-1.59zM756.93,795.64h1.59v1.59h-1.59zM758.52,795.64h1.59v1.59h-1.59zM760.12,795.64h1.59v1.59h-1.59zM761.71,795.64h1.59v1.59h-1.59zM771.27,795.64h1.59v1.59h-1.59zM772.87,795.64h1.59v1.59h-1.59zM777.65,795.64h1.59v1.59h-1.59zM780.84,795.64h1.59v1.59h-1.59zM782.43,795.64h1.59v1.59h-1.59zM784.02,795.64h1.59v1.59h-1.59zM785.62,795.64h1.59v1.59h-1.59zM787.21,795.64h1.59v1.59h-1.59zM788.81,795.64h1.59v1.59h-1.59zM750.55,797.24h1.59v1.59h-1.59zM753.74,797.24h1.59v1.59h-1.59zM756.93,797.24h1.59v1.59h-1.59zM758.52,797.24h1.59v1.59h-1.59zM763.30,797.24h1.59v1.59h-1.59zM764.90,797.24h1.59v1.59h-1.59zM768.08,797.24h1.59v1.59h-1.59zM771.27,797.24h1.59v1.59h-1.59zM772.87,797.24h1.59v1.59h-1.59zM776.05,797.24h1.59v1.59h-1.59zM777.65,797.24h1.59v1.59h-1.59zM782.43,797.24h1.59v1.59h-1.59zM784.02,797.24h1.59v1.59h-1.59zM785.62,797.24h1.59v1.59h-1.59zM788.81,797.24h1.59v1.59h-1.59zM753.74,798.83h1.59v1.59h-1.59zM755.33,798.83h1.59v1.59h-1.59zM760.12,798.83h1.59v1.59h-1.59zM763.30,798.83h1.59v1.59h-1.59zM764.90,798.83h1.59v1.59h-1.59zM766.49,798.83h1.59v1.59h-1.59zM774.46,798.83h1.59v1.59h-1.59zM776.05,798.83h1.59v1.59h-1.59zM782.43,798.83h1.59v1.59h-1.59zM784.02,798.83h1.59v1.59h-1.59zM785.62,798.83h1.59v1.59h-1.59zM750.55,800.42h1.59v1.59h-1.59zM760.12,800.42h1.59v1.59h-1.59zM761.71,800.42h1.59v1.59h-1.59zM763.30,800.42h1.59v1.59h-1.59zM766.49,800.42h1.59v1.59h-1.59zM768.08,800.42h1.59v1.59h-1.59zM771.27,800.42h1.59v1.59h-1.59zM772.87,800.42h1.59v1.59h-1.59zM774.46,800.42h1.59v1.59h-1.59zM777.65,800.42h1.59v1.59h-1.59zM784.02,800.42h1.59v1.59h-1.59zM785.62,800.42h1.59v1.59h-1.59zM787.21,800.42h1.59v1.59h-1.59zM752.15,802.02h1.59v1.59h-1.59zM753.74,802.02h1.59v1.59h-1.59zM755.33,802.02h1.59v1.59h-1.59zM764.90,802.02h1.59v1.59h-1.59zM768.08,802.02h1.59v1.59h-1.59zM771.27,802.02h1.59v1.59h-1.59zM774.46,802.02h1.59v1.59h-1.59zM776.05,802.02h1.59v1.59h-1.59zM777.65,802.02h1.59v1.59h-1.59zM779.24,802.02h1.59v1.59h-1.59zM784.02,802.02h1.59v1.59h-1.59zM785.62,802.02h1.59v1.59h-1.59zM750.55,803.61h1.59v1.59h-1.59zM756.93,803.61h1.59v1.59h-1.59zM764.90,803.61h1.59v1.59h-1.59zM766.49,803.61h1.59v1.59h-1.59zM768.08,803.61h1.59v1.59h-1.59zM769.68,803.61h1.59v1.59h-1.59zM776.05,803.61h1.59v1.59h-1.59zM779.24,803.61h1.59v1.59h-1.59zM780.84,803.61h1.59v1.59h-1.59zM785.62,803.61h1.59v1.59h-1.59zM750.55,805.21h1.59v1.59h-1.59zM752.15,805.21h1.59v1.59h-1.59zM753.74,805.21h1.59v1.59h-1.59zM755.33,805.21h1.59v1.59h-1.59zM756.93,805.21h1.59v1.59h-1.59zM761.71,805.21h1.59v1.59h-1.59zM763.30,805.21h1.59v1.59h-1.59zM764.90,805.21h1.59v1.59h-1.59zM768.08,805.21h1.59v1.59h-1.59zM769.68,805.21h1.59v1.59h-1.59zM771.27,805.21h1.59v1.59h-1.59zM776.05,805.21h1.59v1.59h-1.59zM777.65,805.21h1.59v1.59h-1.59zM779.24,805.21h1.59v1.59h-1.59zM784.02,805.21h1.59v1.59h-1.59zM785.62,805.21h1.59v1.59h-1.59zM788.81,805.21h1.59v1.59h-1.59z" fill="#2a2a2a"/><rect x="738.60" y="755.00" width="9.56" height="9.56" fill="none" stroke="#222" stroke-width="1.59"/><rect x="740.99" y="757.39" width="4.78" height="4.78" fill="#222"/><rect x="780.04" y="755.00" width="9.56" height="9.56" fill="none" stroke="#222" stroke-width="1.59"/><rect x="782.43" y="757.39" width="4.78" height="4.78" fill="#222"/><rect x="738.60" y="796.44" width="9.56" height="9.56" fill="none" stroke="#222" stroke-width="1.59"/><rect x="740.99" y="798.83" width="4.78" height="4.78" fill="#222"/><circle cx="764" cy="779" r="5" fill="#fff"/><circle cx="764" cy="779" r="3.5" fill="none" stroke="#5ab0e0" stroke-width="1.6"/><text x="741" y="817" font-family="Liberation Sans" font-size="8.2" fill="#777">Download APP</text><text x="741.3" y="822.3" font-family="Liberation Sans" font-size="4.6" fill="#444" textLength="49" lengthAdjust="spacingAndGlyphs">App name: Smart Life</text><text x="766.3" y="827" font-family="Liberation Sans" font-size="4.6" fill="#444" textLength="27.5" lengthAdjust="spacingAndGlyphs">Smart Living</text><path d="M743.2,921 V966 Q743.2,970.4 739,970.4 H685 Q680.6,970.4 680.6,966 V951 Q680.6,944.5 675.8,944.5 Q670.9,944.5 670.9,951 V1001 Q670.9,1007 665,1007 Q659,1007 659,1001 V951 Q659,944.5 653,944.5 Q647,944.5 647,951 V1001 Q647,1007 640.5,1007 Q633.9,1007 633.9,1001 V974 Q633.9,969.5 629.5,969.5 H558" stroke="#0a0a0a" stroke-width="4.6" fill="none"/><path d="M562,968 L546,964.8 L534,964.8" stroke="#c43838" stroke-width="2.4" fill="none"/><path d="M562,971 L546,972.3 L534,972.3" stroke="#111" stroke-width="2.4" fill="none"/><path d="M532,964.8 H538 M532,972.3 H538" stroke="#bbb" stroke-width="1.6"/><rect x="500.3" y="948.8" width="23" height="5.2" fill="#e01010"/><rect x="509.3" y="939.6" width="5.4" height="23" fill="#e01010"/><rect x="504.6" y="980.2" width="18.7" height="6" fill="#111"/><text x="535" y="447.3" font-family="Liberation Sans" font-size="29" fill="#1c2a8c" textLength="94" lengthAdjust="spacingAndGlyphs">16.53 in</text><text x="400.5" y="609.8" font-family="Liberation Sans" font-size="29.5" fill="#1c2a8c" textLength="111" lengthAdjust="spacingAndGlyphs">118.11 in</text><text x="781" y="993.6" font-family="Liberation Sans" font-size="29" fill="#1c2a8c" textLength="96" lengthAdjust="spacingAndGlyphs">16.53 in</text><path d="M663.2,1089 Q664.1,1087.5 665.0,1089 L666.9,1128 L666.9,1392 L661.3,1392 L661.3,1128 Z" fill="#161616"/><rect x="658.6" y="1390.6" width="11" height="11.5" rx="1.2" fill="#141414"/><path d="M676.5,1089 Q677.4,1087.5 678.3,1089 L680.2,1128 L680.2,1392 L674.6,1392 L674.6,1128 Z" fill="#161616"/><rect x="671.9" y="1390.6" width="11" height="11.5" rx="1.2" fill="#141414"/><path d="M689.0,1089 Q689.9,1087.5 690.8,1089 L692.7,1128 L692.7,1392 L687.1,1392 L687.1,1128 Z" fill="#161616"/><rect x="684.4" y="1390.6" width="11" height="11.5" rx="1.2" fill="#141414"/><path d="M702.2,1089 Q703.1,1087.5 704.0,1089 L705.9,1128 L705.9,1392 L700.3,1392 L700.3,1128 Z" fill="#161616"/><rect x="697.6" y="1390.6" width="11" height="11.5" rx="1.2" fill="#141414"/><path d="M731.1,1399.5 V1166 Q731.1,1147.8 749,1147.8 H806.8" stroke="#c4c4c4" stroke-width="9.2" fill="none"/><path d="M731.1,1399.5 V1166 Q731.1,1147.8 749,1147.8 H806.8" stroke="#f7f7f7" stroke-width="7.8" fill="none"/><path d="M732.9,1399.5 V1167 Q732.9,1150.1 749,1150.1 H806.8" stroke="#7c7c7c" stroke-width="4.4" fill="none"/><path d="M730.2,1159.5 Q733,1146.5 752,1144.3" stroke="#111" stroke-width="2" fill="none"/><rect x="772.1" y="1177.3" width="121.3" height="198" rx="3" fill="url(#remG)"/><rect x="772.1" y="1177.3" width="14" height="195" fill="url(#remL)"/><path d="M880,1177.3 H890.4 Q893.4,1177.3 893.4,1180.3 V1372 H880 Z" fill="url(#remR)"/><path d="M799.5,1177.3 H867.5 V1190.8 Q867.5,1193.8 864.5,1193.8 H802.5 Q799.5,1193.8 799.5,1190.8 Z" fill="#050505"/><rect x="799.5" y="1177.3" width="34" height="16.5" fill="#262626"/><path d="M772.1,1371.4 H893.4 V1392.3 Q893.4,1398.3 887.4,1398.3 H778.1 Q772.1,1398.3 772.1,1392.3 Z" fill="#181818"/><rect x="791.2" y="1375.8" width="82.3" height="15.6" rx="7.8" fill="#fff"/><rect x="793.8" y="1203.3" width="78.9" height="83.2" rx="6" fill="#c9c9c9" stroke="#e6e6e6" stroke-width="1.2"/><rect x="797.8" y="1212.9" width="73.1" height="27" rx="6" fill="#4a4a4a"/><path d="M832.8,1212.9 V1239.9" stroke="#2a2a2a" stroke-width="1"/><rect x="797.8" y="1249.3" width="73.1" height="27" rx="6" fill="#4a4a4a"/><path d="M832.8,1249.3 V1276.3" stroke="#2a2a2a" stroke-width="1"/><text x="814.3" y="1232.8" font-family="Liberation Sans" font-size="20.5" fill="#fff" stroke="#2a2a2a" stroke-width="1.4" paint-order="stroke" text-anchor="middle">A</text><text x="851.2" y="1232.8" font-family="Liberation Sans" font-size="20.5" fill="#fff" stroke="#2a2a2a" stroke-width="1.4" paint-order="stroke" text-anchor="middle">B</text><text x="814.3" y="1270.0" font-family="Liberation Sans" font-size="20.5" fill="#fff" stroke="#2a2a2a" stroke-width="1.4" paint-order="stroke" text-anchor="middle">C</text><text x="851.2" y="1270.0" font-family="Liberation Sans" font-size="20.5" fill="#fff" stroke="#2a2a2a" stroke-width="1.4" paint-order="stroke" text-anchor="middle">D</text><g transform="translate(555.0,1216.1) rotate(55.0)"><path d="M-2,-3 L3,-8.5 L31.0,-11 Q33.0,-11 33.0,-9 L33.0,-7.2 L10,-4.6 Q6.5,-3.8 6.5,0 Q6.5,3.8 10,4.6 L33.0,7.2 L33.0,9 Q33.0,11 31.0,11 L3,8.5 L-2,3 Z" fill="#b0b0b0" stroke="#555" stroke-width="0.8"/></g><g transform="translate(530.5,1195.5) rotate(40.0)"><path d="M4,-7.5 L28.0,-5.8 Q32.0,-5.8 32.0,-3 L32.0,3 Q32.0,5.8 28.0,5.8 L4,7.5 Q-2,7.5 -2,0 Q-2,-7.5 4,-7.5 Z" fill="#d42030"/><path d="M3,-4.0 L27.0,-2.8" stroke="#ff7080" stroke-width="2.4" opacity="0.45"/><rect x="31.0" y="-3.4" width="5" height="6.8" fill="#b07050"/></g><g transform="translate(613.2,1218.2) rotate(50.0)"><path d="M-2,-3 L3,-8.5 L31.0,-11 Q33.0,-11 33.0,-9 L33.0,-7.2 L10,-4.6 Q6.5,-3.8 6.5,0 Q6.5,3.8 10,4.6 L33.0,7.2 L33.0,9 Q33.0,11 31.0,11 L3,8.5 L-2,3 Z" fill="#b0b0b0" stroke="#555" stroke-width="0.8"/></g><g transform="translate(580.5,1197.0) rotate(33.0)"><path d="M4,-8.8 L35.0,-6.8 Q39.0,-6.8 39.0,-3 L39.0,3 Q39.0,6.8 35.0,6.8 L4,8.8 Q-2,8.8 -2,0 Q-2,-8.8 4,-8.8 Z" fill="#1e4fc0"/><path d="M3,-5.2 L34.0,-3.8" stroke="#6f95ff" stroke-width="2.4" opacity="0.45"/><rect x="38.0" y="-3.4" width="5" height="6.8" fill="#2a2a2a"/></g><polygon points="582.4,1278.3 578.7,1284.4 571.3,1284.4 567.6,1278.3 571.3,1272.2 578.7,1272.2" fill="#f2f2f2" stroke="#999" stroke-width="0.7"/><circle cx="575.0" cy="1278.3" r="5.4" fill="#fff" stroke="#1e1e1e" stroke-width="1.5"/><polygon points="601.0,1278.3 597.3,1284.4 589.9,1284.4 586.2,1278.3 589.9,1272.2 597.3,1272.2" fill="#f2f2f2" stroke="#999" stroke-width="0.7"/><circle cx="593.6" cy="1278.3" r="5.4" fill="#fff" stroke="#1e1e1e" stroke-width="1.5"/><polygon points="619.2,1278.3 615.5,1284.4 608.1,1284.4 604.4,1278.3 608.1,1272.2 615.5,1272.2" fill="#f2f2f2" stroke="#999" stroke-width="0.7"/><circle cx="611.8" cy="1278.3" r="5.4" fill="#fff" stroke="#1e1e1e" stroke-width="1.5"/><polygon points="637.4,1278.3 633.7,1284.4 626.3,1284.4 622.6,1278.3 626.3,1272.2 633.7,1272.2" fill="#f2f2f2" stroke="#999" stroke-width="0.7"/><circle cx="630.0" cy="1278.3" r="5.4" fill="#fff" stroke="#1e1e1e" stroke-width="1.5"/><circle cx="554.4" cy="1301.2" r="9.3" fill="none" stroke="url(#washH)" stroke-width="3.8"/><circle cx="554.4" cy="1301.2" r="11.1" fill="none" stroke="#555" stroke-width="0.6"/><circle cx="579.3" cy="1301.2" r="9.3" fill="none" stroke="url(#washH)" stroke-width="3.8"/><circle cx="579.3" cy="1301.2" r="11.1" fill="none" stroke="#555" stroke-width="0.6"/><circle cx="604.2" cy="1301.2" r="9.3" fill="none" stroke="url(#washH)" stroke-width="3.8"/><circle cx="604.2" cy="1301.2" r="11.1" fill="none" stroke="#555" stroke-width="0.6"/><circle cx="628.6" cy="1301.2" r="9.3" fill="none" stroke="url(#washH)" stroke-width="3.8"/><circle cx="628.6" cy="1301.2" r="11.1" fill="none" stroke="#555" stroke-width="0.6"/><rect x="551" y="1328.1" width="84.7" height="5.6" fill="url(#shaftG)"/><path d="M551,1330.9 H635.7" stroke="#444" stroke-width="0.8"/><rect x="539.1" y="1324.4" width="12.4" height="13" rx="2" fill="#d4d4d4" stroke="#222" stroke-width="1.1"/><path d="M539.6,1329.1 H551 M539.6,1332.7 H551" stroke="#111" stroke-width="1.5"/><rect x="551" y="1348.7" width="84.7" height="5.6" fill="url(#shaftG)"/><path d="M551,1351.5 H635.7" stroke="#444" stroke-width="0.8"/><rect x="539.1" y="1345.0" width="12.4" height="13" rx="2" fill="#d4d4d4" stroke="#222" stroke-width="1.1"/><path d="M539.6,1349.7 H551 M539.6,1353.3 H551" stroke="#111" stroke-width="1.5"/><rect x="551" y="1368.8" width="84.7" height="5.6" fill="url(#shaftG)"/><path d="M551,1371.6 H635.7" stroke="#444" stroke-width="0.8"/><rect x="539.1" y="1365.1" width="12.4" height="13" rx="2" fill="#d4d4d4" stroke="#222" stroke-width="1.1"/><path d="M539.6,1369.8 H551 M539.6,1373.4 H551" stroke="#111" stroke-width="1.5"/><rect x="551" y="1389.3" width="84.7" height="5.6" fill="url(#shaftG)"/><path d="M551,1392.1 H635.7" stroke="#444" stroke-width="0.8"/><rect x="539.1" y="1385.6" width="12.4" height="13" rx="2" fill="#d4d4d4" stroke="#222" stroke-width="1.1"/><path d="M539.6,1390.3 H551 M539.6,1393.9 H551" stroke="#111" stroke-width="1.5"/>
</svg>
</body></html>
